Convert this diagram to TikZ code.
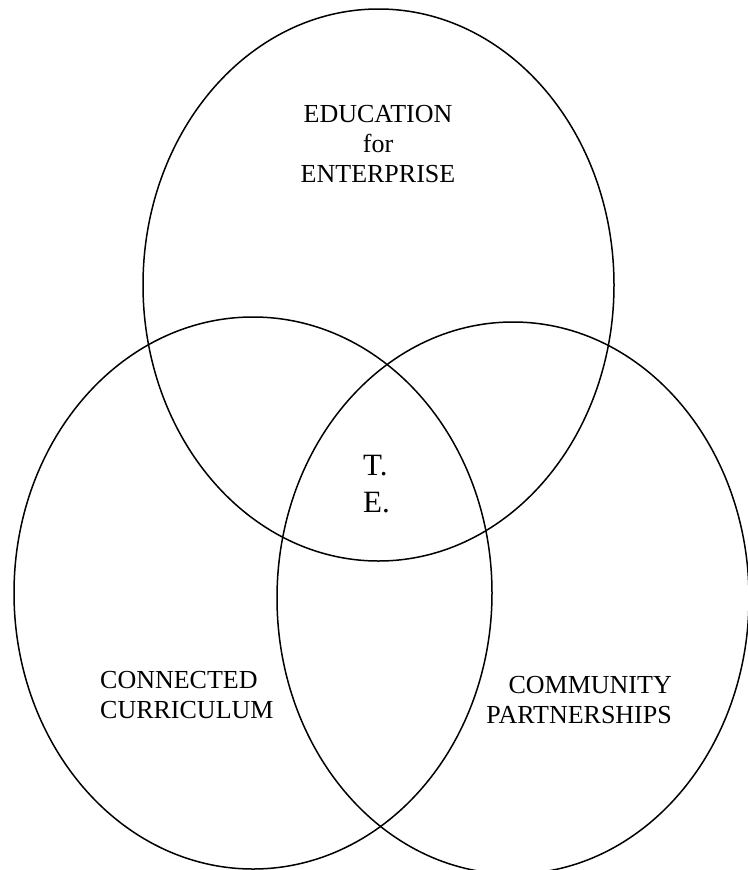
\documentclass[tikz,border=0pt]{standalone}
\usepackage{fontspec}
\setmainfont{Liberation Serif}
\begin{document}
\begin{tikzpicture}[x=1bp,y=-1bp,
  ring/.style={draw=black,line width=1.5bp},
  label/.style={inner sep=0pt,font=\fontsize{26bp}{30bp}\selectfont},
  core/.style={inner sep=0pt,align=left,font=\fontsize{31bp}{37bp}\selectfont}]
  \useasboundingbox (0,0) rectangle (748,870);
  % three overlapping circles of the model
  \draw[ring] (378.5,285) ellipse [x radius=235.5, y radius=276];
  \draw[ring] (253,593) ellipse [x radius=239, y radius=276];
  \draw[ring] (513,598) ellipse [x radius=236, y radius=276];
  % labels
  \node[label,align=center,anchor=north] (edu) at (378,105) {EDUCATION\\for\\ENTERPRISE};
  \node[label,align=left,anchor=north west] (cc) at (100,671) {CONNECTED\\CURRICULUM};
  \node[label,align=right,anchor=north east] (cp) at (672,676) {COMMUNITY\\PARTNERSHIPS};
  \node[core,anchor=north west] (te) at (363,455) {T.\\E.};
\end{tikzpicture}
\end{document}
